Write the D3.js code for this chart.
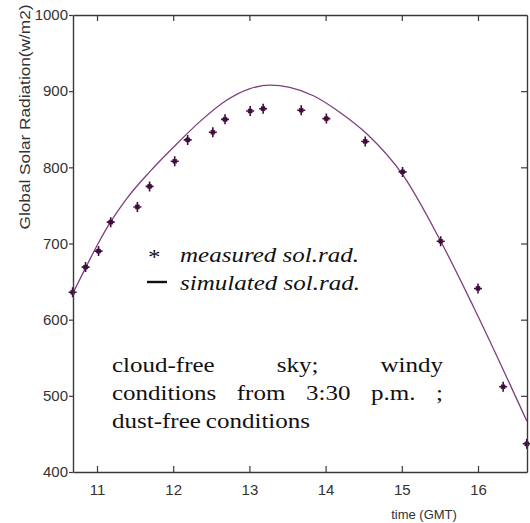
<!DOCTYPE html>
<html>
<head>
<meta charset="utf-8">
<script src="https://cdn.jsdelivr.net/npm/d3@7"></script>
<style>
  body { margin: 0; background: #fff; }
  svg { display: block; }
</style>
</head>
<body>
<div id="chart"></div>
<script>
var width = 530, height = 523;
var margin = {top: 15, right: 3, bottom: 51, left: 73};

// measured points (time GMT, W/m2)
var measuredTime = [10.68, 10.85, 11.02, 11.18, 11.53, 11.69, 12.02, 12.19, 12.52, 12.68,
                    13.01, 13.18, 13.68, 14.01, 14.52, 15.01, 15.51, 16.0, 16.33, 16.64];
var measuredValue = [636, 669, 690, 728, 748, 775, 808, 836, 846, 863,
                     874, 877, 875, 864, 834, 794, 703, 641, 512, 437];

// simulated curve
var simTime = [10.68, 10.84, 11.02, 11.17, 11.39, 11.70, 12.0, 12.35, 12.70, 13.0,
               13.27, 13.53, 13.84, 14.19, 14.54, 15.02, 15.50, 15.94, 16.64];
var simValue = [634, 666, 701, 727, 759, 795, 826, 860, 888, 903,
                908, 905, 894, 872, 844, 789, 705, 617, 467];

var xTicks = [11, 12, 13, 14, 15, 16];
var yTicks = [400, 500, 600, 700, 800, 900, 1000];

var legendLabels = ['measured sol.rad.', 'simulated sol.rad.'];
var noteLines = [
  {words: ['cloud-free', 'sky;', 'windy'], justify: true},
  {words: ['conditions', 'from', '3:30', 'p.m.', ';'], justify: true},
  {words: ['dust-free', 'conditions'], justify: false}
];

var lineColor = '#7d3f7d', markColor = '#3f0c3c', axisColor = '#3a3a3a';

var svg = d3.select('#chart').append('svg')
  .attr('width', width)
  .attr('height', height);

var x = d3.scaleLinear().domain([10.685, 16.643]).range([margin.left, width - margin.right]);
var y = d3.scaleLinear().domain([400, 1000]).range([height - margin.bottom, margin.top]);

var tickFont = '"Liberation Sans Narrow", "Arial Narrow", "Liberation Sans", Arial, sans-serif';

// simulated curve
var sim = simTime.map((t, i) => ({t: t, v: simValue[i]}));
svg.append('path')
  .datum(sim)
  .attr('fill', 'none')
  .attr('stroke', lineColor)
  .attr('stroke-width', 1.3)
  .attr('d', d3.line().x(d => x(d.t)).y(d => y(d.v)).curve(d3.curveMonotoneX));

// measured markers: plus with small diagonals
var meas = measuredTime.map((t, i) => ({t: t, v: measuredValue[i]}));
function starPath() {
  var p = d3.path();
  p.moveTo(0, -5); p.lineTo(0, 5);
  p.moveTo(-4, 0); p.lineTo(4, 0);
  p.moveTo(-2, -2); p.lineTo(2, 2);
  p.moveTo(-2, 2); p.lineTo(2, -2);
  return p.toString();
}
svg.selectAll('.meas')
  .data(meas)
  .enter().append('path')
  .attr('class', 'meas')
  .attr('transform', d => `translate(${x(d.t)},${y(d.v)})`)
  .attr('d', starPath())
  .attr('fill', 'none')
  .attr('stroke', markColor)
  .attr('stroke-width', 1.6);

// axes
var plotL = margin.left, plotR = width - margin.right, plotT = margin.top, plotB = height - margin.bottom;

var gBottom = svg.append('g').attr('transform', `translate(0,${plotB})`)
  .call(d3.axisBottom(x).tickValues(xTicks).tickSizeInner(-6).tickSizeOuter(0).tickPadding(12).tickFormat(d3.format('d')));
var gTop = svg.append('g').attr('transform', `translate(0,${plotT})`)
  .call(d3.axisTop(x).tickValues(xTicks).tickSizeInner(-6).tickSizeOuter(0).tickFormat(''));
var gLeft = svg.append('g').attr('transform', `translate(${plotL},0)`)
  .call(d3.axisLeft(y).tickValues(yTicks).tickSizeInner(4).tickSizeOuter(0).tickPadding(1).tickFormat(d3.format('d')));
var gRight = svg.append('g').attr('transform', `translate(${plotR},0)`)
  .call(d3.axisRight(y).tickValues(yTicks.slice(1, -1)).tickSizeInner(-6).tickSizeOuter(0).tickFormat(''));

[gBottom, gTop, gLeft, gRight].forEach(g => {
  g.selectAll('path.domain').attr('stroke', axisColor).attr('stroke-width', 1.4);
  g.selectAll('.tick line').attr('stroke', axisColor).attr('stroke-width', 1.2);
  g.selectAll('.tick text').attr('fill', '#333').style('font-family', tickFont).style('font-size', '15px');
});

// axis labels
svg.append('text')
  .attr('transform', 'translate(25,117) rotate(-90)')
  .attr('text-anchor', 'middle')
  .attr('dy', '0.35em')
  .attr('textLength', 225)
  .attr('lengthAdjust', 'spacingAndGlyphs')
  .style('font-family', '"Liberation Sans", Arial, sans-serif')
  .style('font-size', '14px')
  .attr('fill', '#333')
  .text('Global Solar Radiation(w/m2)');

svg.append('text')
  .attr('x', 424)
  .attr('y', 519)
  .attr('text-anchor', 'middle')
  .style('font-family', tickFont)
  .style('font-size', '13px')
  .attr('fill', '#333')
  .text('time (GMT)');

// serif text, a little stretched like the source
var serif = '"Liberation Serif", "Times New Roman", serif';
var sx = 1.22;
function stretched(xp, yp, txt, italic) {
  var g = svg.append('g').attr('transform', `translate(${xp},${yp}) scale(${sx},1)`);
  var t = g.append('text')
    .attr('x', 0).attr('y', 0)
    .style('font-family', serif)
    .style('font-size', '20.5px')
    .style('font-style', italic ? 'italic' : 'normal')
    .attr('fill', '#111')
    .text(txt);
  return t;
}

// legend
stretched(148, 264, '*', false);
svg.append('line')
  .attr('x1', 147).attr('x2', 167)
  .attr('y1', 282).attr('y2', 282)
  .attr('stroke', '#111').attr('stroke-width', 2.4);
stretched(180, 262, legendLabels[0], true);
stretched(180, 290, legendLabels[1], true);

// note block (justified)
var noteX = 112, noteW = 331, noteY = 372, noteStep = 28;
noteLines.forEach((ln, li) => {
  var yy = noteY + li * noteStep;
  var nodes = ln.words.map(w => stretched(0, yy, w, false));
  var widths = nodes.map(n => n.node().getComputedTextLength() * sx);
  var total = d3.sum(widths);
  var gap = ln.justify ? (noteW - total) / (ln.words.length - 1) : 5;
  var cx = noteX;
  nodes.forEach((n, i) => {
    d3.select(n.node().parentNode).attr('transform', `translate(${cx},${yy}) scale(${sx},1)`);
    cx += widths[i] + gap;
  });
});
</script>
</body>
</html>
